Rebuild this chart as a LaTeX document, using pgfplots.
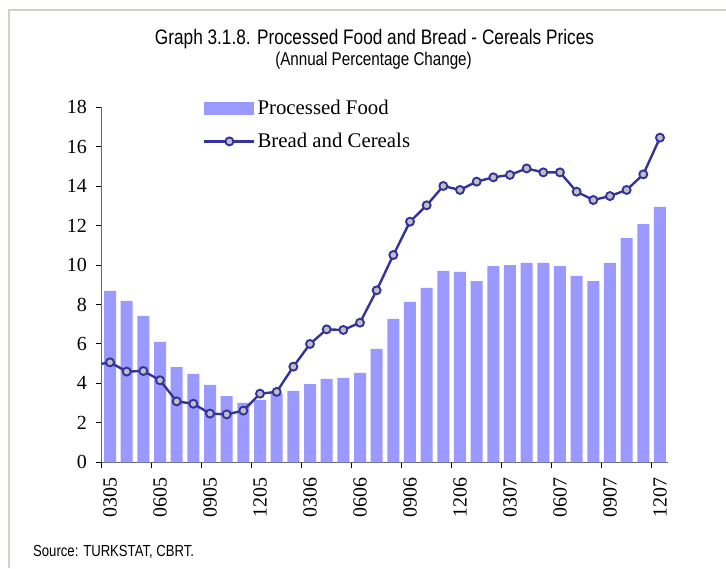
\documentclass[border=0pt]{standalone}
\usepackage{fontspec}
\setmainfont{Liberation Serif}
\newfontfamily\narrow[FakeStretch=0.82]{Liberation Sans}
\usepackage{pgfplots}
\pgfplotsset{compat=1.18}
\definecolor{barc}{HTML}{9999FF}
\definecolor{linec}{HTML}{333399}
\definecolor{markc}{HTML}{C0C0C0}
\definecolor{framec}{HTML}{D4D0C8}
\pgfplotsset{linelegend/.style={legend image code/.code={\draw[mark repeat=2,mark phase=2,##1] plot coordinates {(0pt,0pt) (25pt,0pt) (50pt,0pt)};}}}
\begin{document}
\begin{tikzpicture}
\useasboundingbox (-101.7pt,-105.7pt) rectangle (624.3pt,462.3pt);
\draw[framec, line width=2pt] (-92.7pt,-106pt) -- (-92.7pt,452.3pt) -- (625pt,452.3pt);
\begin{axis}[
  at={(0pt,0pt)}, anchor=south west,
  scale only axis, width=566.6pt, height=355pt,
  xmin=-0.5, xmax=33.5, ymin=0, ymax=18,
  axis x line=bottom, axis y line=left,
  axis line style={-, draw=black!60, line width=1.3pt},
  ytick={0,2,...,18},
  xtick={-0.5,2.5,...,32.5}, xticklabels={},
  extra x ticks={0,3,...,33},
  extra x tick labels={0305,0605,0905,1205,0306,0606,0906,1206,0307,0607,0907,1207},
  extra x tick style={major tick length=0pt},
  tick align=outside, major tick length=6pt,
  tick style={black, line width=1pt},
  /pgf/number format/assume math mode=true,
  tick label style={font=\fontsize{20}{20}\selectfont},
  xticklabel style={rotate=90, anchor=east, inner xsep=15pt},
  yticklabel style={inner xsep=8.5pt},
  legend style={draw=none, fill=none, at={(0.1788,1.0225)}, anchor=north west,
    font=\fontsize{20.8}{24}\selectfont, row sep=15pt, inner sep=0pt,
    nodes={inner xsep=2pt, inner ysep=1pt}},
  legend cell align=left,
]
\addplot[ybar, bar width=12pt, fill=barc, draw=none,
  legend image code/.code={\fill[barc] (0pt,-6.5pt) rectangle (50pt,6.5pt);}]
  coordinates {
  (0,8.69) (1,8.18) (2,7.42) (3,6.10) (4,4.83) (5,4.48) (6,3.92) (7,3.36)
  (8,3.01) (9,3.16) (10,3.50) (11,3.62) (12,3.97) (13,4.23) (14,4.28) (15,4.53)
  (16,5.75) (17,7.27) (18,8.13) (19,8.84) (20,9.70) (21,9.65) (22,9.19) (23,9.95)
  (24,10.00) (25,10.11) (26,10.11) (27,9.95) (28,9.45) (29,9.19) (30,10.11)
  (31,11.37) (32,12.08) (33,12.95)};
\addlegendentry{Processed Food}
\addplot[linec, line width=2.4pt, no marks, forget plot] coordinates {(-1,4.92) (0,5.07)};
\addplot[linec, line width=2.4pt, mark=*, mark size=4pt,
  mark options={fill=markc, draw=linec, line width=1.9pt}, linelegend]
  coordinates {
  (0,5.07) (1,4.60) (2,4.63) (3,4.16) (4,3.09) (5,2.97) (6,2.47) (7,2.43)
  (8,2.62) (9,3.48) (10,3.57) (11,4.85) (12,6.00) (13,6.74) (14,6.71) (15,7.08)
  (16,8.72) (17,10.51) (18,12.20) (19,13.03) (20,14.01) (21,13.81) (22,14.23)
  (23,14.45) (24,14.57) (25,14.90) (26,14.70) (27,14.70) (28,13.72) (29,13.30)
  (30,13.50) (31,13.81) (32,14.60) (33,16.46)};
\addlegendentry{Bread and Cereals}
\end{axis}
\node[anchor=base, font=\narrow\fontsize{21}{21}\selectfont] at (272.8pt,417.3pt) {Graph 3.1.8. Processed Food and Bread - Cereals Prices};
\node[anchor=base, font=\narrow\fontsize{18.5}{18.5}\selectfont] at (271.8pt,396.3pt) {(Annual Percentage Change)};
\node[anchor=base west, inner sep=0pt, font=\narrow\fontsize{16}{16}\selectfont] at (-68.7pt,-93.7pt) {Source: TURKSTAT, CBRT.};
\end{tikzpicture}
\end{document}
